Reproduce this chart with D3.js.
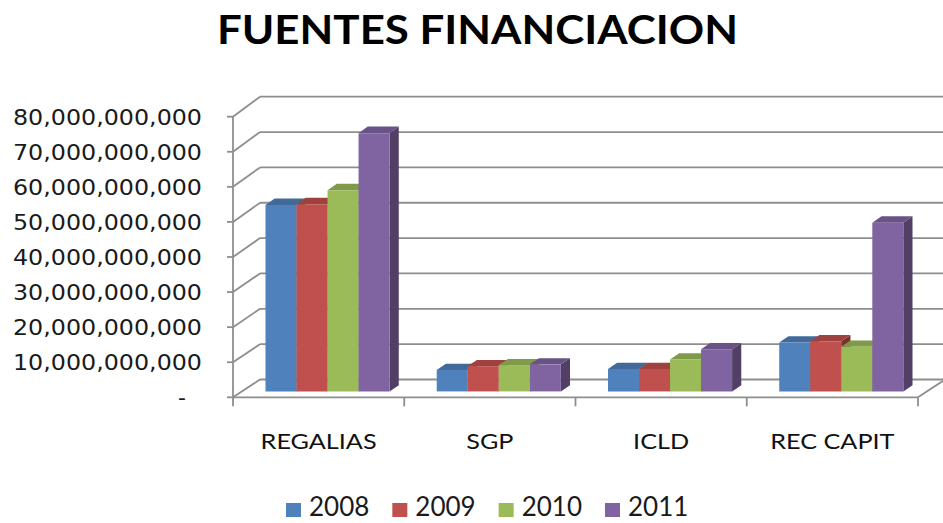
<!DOCTYPE html>
<html>
<head>
<meta charset="utf-8">
<script src="https://cdn.jsdelivr.net/npm/d3@7"></script>
<style>
body { margin: 0; background: #fff; }
</style>
</head>
<body>
<div id="chart"></div>
<script>
// datos
var categories = ["REGALIAS", "SGP", "ICLD", "REC CAPIT"];
var years = ["2008", "2009", "2010", "2011"];
var v2008 = [53.0e9, 6.1e9, 6.4e9, 13.9e9];
var v2009 = [53.2e9, 7.2e9, 6.4e9, 14.3e9];
var v2010 = [57.2e9, 7.5e9, 9.1e9, 12.7e9];
var v2011 = [73.4e9, 7.7e9, 12.0e9, 48.0e9];
var yTicks = [0, 10e9, 20e9, 30e9, 40e9, 50e9, 60e9, 70e9, 80e9];
var colors = ["#4F81BD", "#C0504D", "#9BBB59", "#8064A2"];

var series = [v2008, v2009, v2010, v2011];

var width = 943;
var height = 523;

var svg = d3.select('#chart')
    .append('svg')
    .attr('width', width)
    .attr('height', height);

// escalas: plano frontal y pared del fondo (efecto 3D)
var x = d3.scaleBand()
    .domain(categories)
    .range([233, 918]);

var xInner = d3.scaleBand()
    .domain(years)
    .range([0, x.bandwidth()])
    .paddingOuter(0.76);

var yFront = d3.scaleLinear().domain([0, 80e9]).range([397.3, 116.7]);
var yBack = d3.scaleLinear().domain([0, 80e9]).range([379.5, 96.7]);
var depthDx = 27;

function px(xv, t) { return xv + depthDx * t; }
function py(v, t) { return yFront(v) * (1 - t) + yBack(v) * t; }

var gridColor = "#8e8e8e";
var grid = svg.append('g')
    .attr('stroke', gridColor)
    .attr('stroke-width', 1.8)
    .attr('fill', 'none');

var x0 = x.range()[0];
var x1 = x.range()[1];

// lineas de la pared del fondo
grid.selectAll('line.back')
    .data(yTicks)
    .enter()
    .append('line')
    .attr('x1', px(x0, 1))
    .attr('x2', px(x1, 1))
    .attr('y1', (d) => yBack(d))
    .attr('y2', (d) => yBack(d));

// lineas de la pared lateral
grid.selectAll('line.side')
    .data(yTicks)
    .enter()
    .append('line')
    .attr('x1', x0)
    .attr('x2', px(x0, 1))
    .attr('y1', (d) => yFront(d))
    .attr('y2', (d) => yBack(d));

// eje vertical y marcas
grid.append('line')
    .attr('x1', x0).attr('x2', x0)
    .attr('y1', yFront(0)).attr('y2', yFront(80e9));
grid.selectAll('line.tick')
    .data(yTicks)
    .enter()
    .append('line')
    .attr('x1', x0 - 6).attr('x2', x0)
    .attr('y1', (d) => yFront(d))
    .attr('y2', (d) => yFront(d));

// suelo
grid.append('line')
    .attr('x1', x0).attr('x2', x1)
    .attr('y1', yFront(0)).attr('y2', yFront(0));
grid.append('line')
    .attr('x1', x1).attr('x2', px(x1, 1))
    .attr('y1', yFront(0)).attr('y2', yBack(0));

var catEdges = categories.map((c) => x(c)).concat([x1]);
grid.selectAll('line.cat')
    .data(catEdges)
    .enter()
    .append('line')
    .attr('x1', (d) => d).attr('x2', (d) => d)
    .attr('y1', yFront(0)).attr('y2', yFront(0) + 9);

// barras
var t0 = 0.33, t1 = 0.67;
var bars = [];
categories.forEach(function(c, ci) {
    years.forEach(function(yr, si) {
        bars.push({cat: c, year: yr, value: series[si][ci], color: colors[si]});
    });
});

function poly(pts) { return pts.map((p) => p.join(',')).join(' '); }

var barG = svg.append('g')
    .selectAll('g')
    .data(bars)
    .enter()
    .append('g');

barG.each(function(d) {
    var g = d3.select(this);
    var bx0 = x(d.cat) + xInner(d.year);
    var bx1 = bx0 + xInner.bandwidth();
    var c = d3.color(d.color);
    // lateral
    g.append('polygon')
        .attr('points', poly([
            [px(bx1, t0), py(0, t0)], [px(bx1, t0), py(d.value, t0)],
            [px(bx1, t1), py(d.value, t1)], [px(bx1, t1), py(0, t1)]
        ]))
        .attr('fill', c.darker(1.3));
    // tapa
    g.append('polygon')
        .attr('points', poly([
            [px(bx0, t0), py(d.value, t0)], [px(bx1, t0), py(d.value, t0)],
            [px(bx1, t1), py(d.value, t1)], [px(bx0, t1), py(d.value, t1)]
        ]))
        .attr('fill', c.darker(0.55));
    // frente
    g.append('polygon')
        .attr('points', poly([
            [px(bx0, t0), py(0, t0)], [px(bx1, t0), py(0, t0)],
            [px(bx1, t0), py(d.value, t0)], [px(bx0, t0), py(d.value, t0)]
        ]))
        .attr('fill', d.color);
});

// etiquetas eje Y
var fmt = d3.format(",");
svg.append('g')
    .selectAll('text')
    .data(yTicks)
    .enter()
    .append('text')
    .attr('x', (d) => d === 0 ? 186 : 202)
    .attr('y', (d) => yFront(d) + 8)
    .attr('text-anchor', 'end')
    .attr('font-family', '"DejaVu Sans", Verdana, sans-serif')
    .attr('font-size', 22)
    .attr('fill', '#1a1a1a')
    .each(function(d) {
        if (d !== 0) d3.select(this).attr('textLength', 189).attr('lengthAdjust', 'spacingAndGlyphs');
    })
    .text((d) => d === 0 ? "-" : fmt(d));

// etiquetas de categorias
var catText = svg.append('g')
    .selectAll('text')
    .data(categories)
    .enter()
    .append('text')
    .attr('x', (d) => x(d) + x.bandwidth() / 2)
    .attr('y', 448.5)
    .attr('text-anchor', 'middle')
    .attr('font-family', 'Lato, "Open Sans", sans-serif')
    .attr('font-size', 21)
    .attr('fill', '#111')
    .text((d) => d);
catText.each(function() {
    var w = this.getComputedTextLength();
    d3.select(this).attr('textLength', w * 1.2).attr('lengthAdjust', 'spacingAndGlyphs');
});

// titulo
svg.append('text')
    .attr('x', 477.5)
    .attr('y', 44.3)
    .attr('text-anchor', 'middle')
    .attr('font-family', 'Lato, "Open Sans", sans-serif')
    .attr('font-weight', 'bold')
    .attr('font-size', 40)
    .attr('fill', '#000')
    .attr('textLength', 521)
    .attr('lengthAdjust', 'spacingAndGlyphs')
    .text("FUENTES FINANCIACION");

// leyenda
var legend = svg.append('g');
var lx = 286;
years.forEach(function(yr, i) {
    legend.append('rect')
        .attr('x', lx)
        .attr('y', 503)
        .attr('width', 15)
        .attr('height', 14)
        .attr('fill', colors[i]);
    var t = legend.append('text')
        .attr('x', lx + 23)
        .attr('y', 516)
        .attr('font-family', 'Lato, "Open Sans", sans-serif')
        .attr('font-size', 26)
        .attr('fill', '#1a1a1a')
        .text(yr);
    lx += 23 + t.node().getComputedTextLength() + 23;
});
</script>
</body>
</html>
